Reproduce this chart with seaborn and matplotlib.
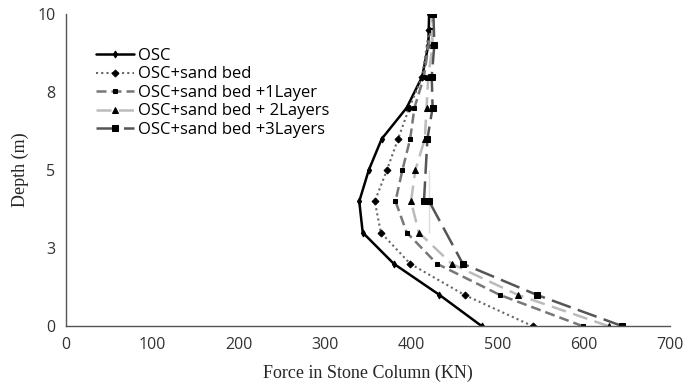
import matplotlib
matplotlib.use("Agg")
import matplotlib.pyplot as plt
import seaborn as sns
import pandas as pd
from matplotlib.ticker import MultipleLocator

depth = [0, 1, 2, 3, 4, 5, 6, 7, 8, 9, 10]
osc = [482, 433, 380, 344, 340, 351, 366, 395, 413, 420, 421]
sand = [541, 462, 399, 365, 358, 372, 385, 398, 413, 421, 421]
layer1 = [599, 503, 430, 395, 382, 390, 399, 404, 415, 423, 423]
layer2 = [629, 524, 447, 409, 400, 405, 416, 418, 420, 425, 424]
layer3 = [645, 546, 460, 421, 415, 421, 419, 425, 424, 427, 426]
names = ["OSC", "OSC+sand bed", "OSC+sand bed +1Layer",
         "OSC+sand bed + 2Layers", "OSC+sand bed +3Layers"]
ytick_vals = [0, 2.5, 5, 7.5, 10]
ytick_labels = ["0", "3", "5", "8", "10"]

sns.set_style("white")
fig = plt.figure(figsize=(6.87, 3.92), dpi=100)
ax = fig.add_axes([0.096, 0.168, 0.879, 0.796])

series = [osc, sand, layer1, layer2, layer3]
styles = [
    dict(color="black", ls="-", lw=1.8, marker="d", ms=3.5),
    dict(color="#666666", ls=(0, (1, 1.5)), lw=1.5, marker="D", ms=3.5),
    dict(color="#777777", ls=(0, (4, 2)), lw=1.8, marker="s", ms=3.5),
    dict(color="#bbbbbb", ls=(0, (6, 3)), lw=1.8, marker="^", ms=4),
    dict(color="#555555", ls=(0, (8, 3)), lw=1.8, marker="s", ms=5),
]
for vals, name, st in zip(series, names, styles):
    df = pd.DataFrame({"force": vals, "depth": depth})
    sns.lineplot(data=df, x="force", y="depth", sort=False, ax=ax,
                 color=st["color"], linestyle=st["ls"], linewidth=st["lw"],
                 marker=st["marker"], markersize=st["ms"],
                 markerfacecolor="black", markeredgecolor="black",
                 label=name)

ax.set_xlim(0, 700)
ax.set_ylim(0, 10)
ax.xaxis.set_major_locator(MultipleLocator(100))
ax.xaxis.set_minor_locator(MultipleLocator(50))
ax.set_yticks(ytick_vals)
ax.set_yticklabels(ytick_labels)
ax.yaxis.set_minor_locator(MultipleLocator(1.25))

for s in ["top", "right"]:
    ax.spines[s].set_visible(False)
for s in ["left", "bottom"]:
    ax.spines[s].set_color("#555555")
    ax.spines[s].set_linewidth(1.0)
ax.tick_params(which="major", direction="inout", length=8, width=1,
               color="#555555", labelsize=11.5, labelcolor="#333333")
ax.tick_params(which="minor", direction="in", length=4, width=1,
               color="#555555")
ax.tick_params(axis="x", pad=4)
for lab in ax.get_xticklabels() + ax.get_yticklabels():
    lab.set_family(["Open Sans", "DejaVu Sans"])

ax.set_xlabel("Force in Stone Column (KN)", family="Liberation Serif",
              fontsize=13, labelpad=8)
ax.set_ylabel("Depth (m)", family="Liberation Serif", fontsize=13,
              labelpad=6)
ax.grid(False)

leg = ax.legend(loc="upper left", bbox_to_anchor=(0.025, 0.94), frameon=False,
                prop={"family": "Open Sans", "size": 12},
                handlelength=2.3, handletextpad=0.2, labelspacing=0.15)
for t in leg.get_texts():
    t.set_color("black")

fig.savefig("out.png", dpi=100)
